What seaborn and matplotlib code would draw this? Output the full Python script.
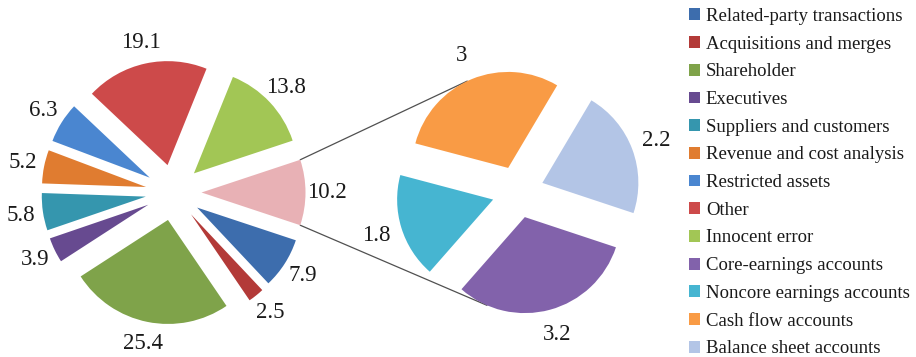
import numpy as np
import matplotlib
matplotlib.use("Agg")
import matplotlib.pyplot as plt
import seaborn as sns

# ---- data ----
main_labels = ["Related-party transactions", "Acquisitions and merges", "Shareholder",
               "Executives", "Suppliers and customers", "Revenue and cost analysis",
               "Restricted assets", "Other", "Innocent error"]
main_values = [7.9, 2.5, 25.4, 3.9, 5.8, 5.2, 6.3, 19.1, 13.8]
combined_value = 10.2
sub_labels = ["Core-earnings accounts", "Noncore earnings accounts",
              "Cash flow accounts", "Balance sheet accounts"]
sub_values = [3.2, 1.8, 3.0, 2.2]

main_colors = ["#3D6DAD", "#B33A38", "#7FA34A", "#674A90", "#3596AE",
               "#E07C30", "#4A86D0", "#CD4A4A", "#A2C655"]
combined_color = "#E8B1B5"
sub_colors = ["#8262AB", "#46B5D1", "#F99B45", "#B3C5E6"]

sns.set_theme(style="white")
plt.rcParams['font.family'] = ['Liberation Serif', 'DejaVu Serif']

W, H = 916, 357
fig = plt.figure(figsize=(W / 100, H / 100), dpi=100)
ax = fig.add_axes([0, 0, 1, 1])

left_vals = main_values + [combined_value]
left_start = -combined_value / sum(left_vals) * 360 / 2

wl, tl = ax.pie(left_vals, colors=main_colors + [combined_color],
                startangle=left_start, counterclock=False,
                center=(173.5, 164.5), radius=104, explode=[28] * len(left_vals),
                labels=[f"{v:g}" for v in left_vals], labeldistance=1.21,
                textprops=dict(fontsize=16.5, color="#1a1a1a"),
                wedgeprops=dict(linewidth=0))

wr, tr = ax.pie(sub_values, colors=sub_colors,
                startangle=left_start, counterclock=False,
                center=(518, 165), radius=96, explode=[26] * len(sub_values),
                labels=[f"{v:g}" for v in sub_values], labeldistance=1.27,
                textprops=dict(fontsize=16.5, color="#1a1a1a"),
                wedgeprops=dict(linewidth=0))

for t in list(tl) + list(tr):
    t.set_ha("center")
    t.set_va("center")

# connector lines from the combined wedge to the second pie
pink = wl[-1]
pcx, pcy = pink.center
pr = pink.r
top = (pcx + pr * np.cos(np.radians(pink.theta2)), pcy + pr * np.sin(np.radians(pink.theta2)))
bot = (pcx + pr * np.cos(np.radians(pink.theta1)), pcy + pr * np.sin(np.radians(pink.theta1)))


def tangent(P, wedge, upper):
    ox, oy = wedge.center
    r = wedge.r
    dx, dy = P[0] - ox, P[1] - oy
    d = np.hypot(dx, dy)
    phi = np.arctan2(dy, dx)
    a = np.arccos(r / d)
    ang = phi - a if upper else phi + a
    return ox + r * np.cos(ang), oy + r * np.sin(ang)


t_top = tangent(top, wr[2], True)
t_bot = tangent(bot, wr[0], False)
ax.plot([top[0], t_top[0]], [top[1], t_top[1]], color="#505050", lw=0.9, zorder=0.5)
ax.plot([bot[0], t_bot[0]], [bot[1], t_bot[1]], color="#505050", lw=0.9, zorder=0.5)

ax.set_xlim(0, W)
ax.set_ylim(0, H)
ax.set_aspect("equal")
ax.axis("off")

handles = list(wl[:len(main_values)]) + list(wr)
leg = fig.legend(handles, main_labels + sub_labels, loc="upper left",
                 bbox_to_anchor=(689 / W, 1 - 8 / H), frameon=False,
                 fontsize=13.5, handlelength=0.6, handleheight=0.6,
                 handletextpad=0.3, labelspacing=0.57, borderpad=0, borderaxespad=0)
for txt in leg.get_texts():
    txt.set_color("#1a1a1a")

fig.savefig("out.png", dpi=100)
